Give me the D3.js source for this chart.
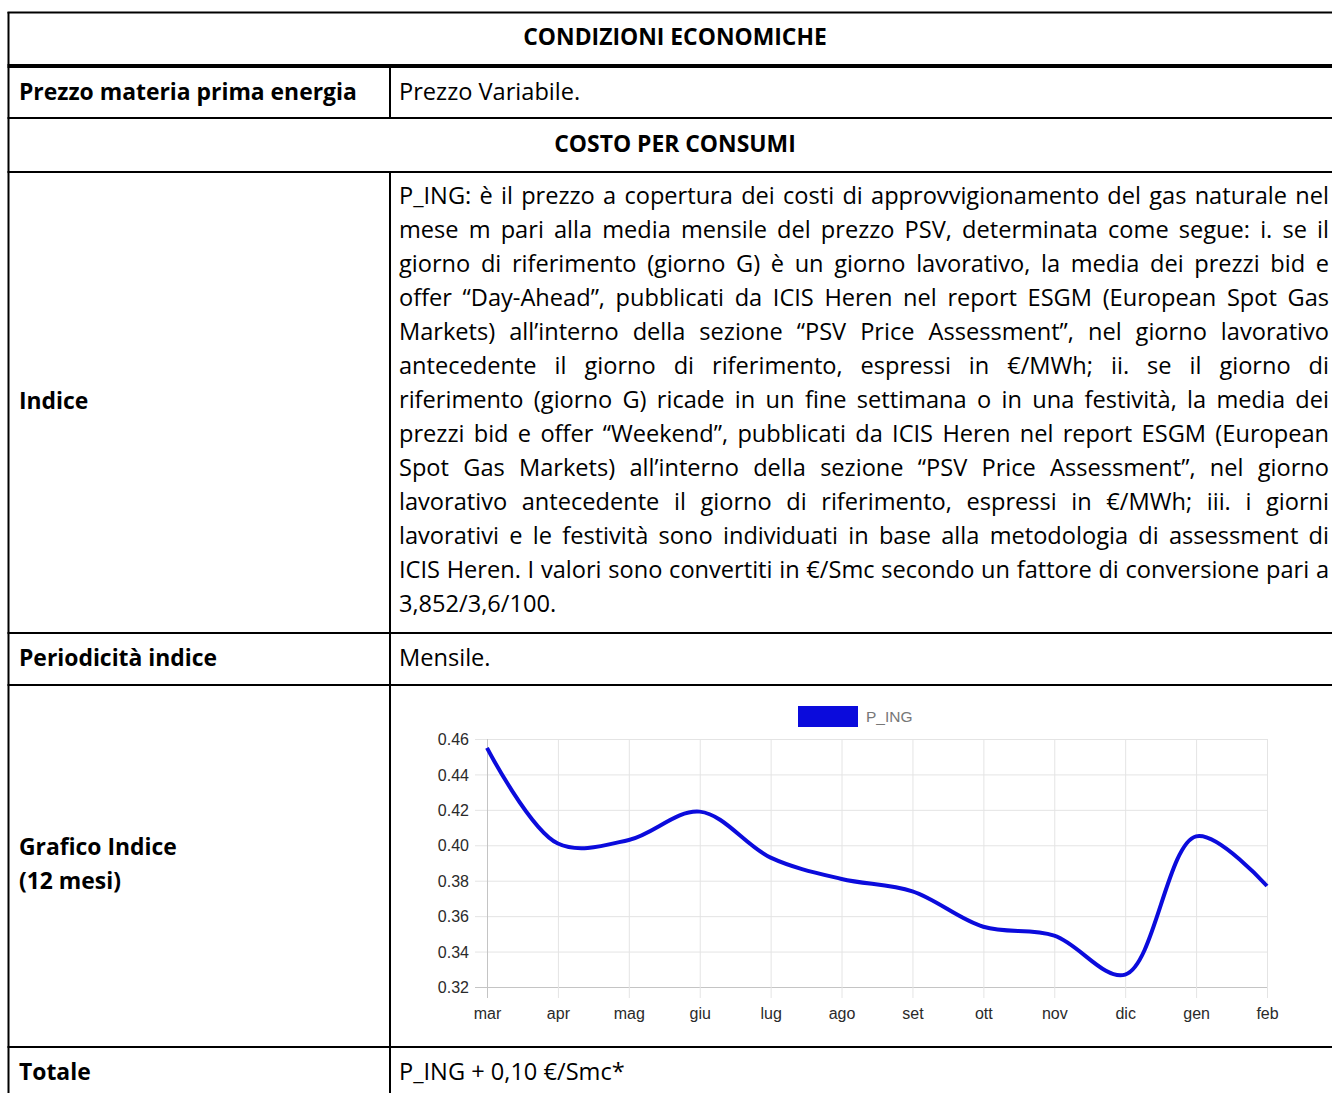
<!DOCTYPE html>
<html>
<head>
<meta charset="utf-8">
<script src="https://cdn.jsdelivr.net/npm/d3@7"></script>
<style>
  body { margin: 0; background: #fff; }
</style>
</head>
<body>
<div id="viz"></div>
<script>
// chart data
var months = ["mar", "apr", "mag", "giu", "lug", "ago", "set", "ott", "nov", "dic", "gen", "feb"];
var pIng = [0.455, 0.401, 0.403, 0.419, 0.393, 0.381, 0.374, 0.354, 0.349, 0.327, 0.405, 0.377];
var yTicks = [0.32, 0.34, 0.36, 0.38, 0.40, 0.42, 0.44, 0.46];
var seriesName = "P_ING";

// table text
var headerTitle = "CONDIZIONI ECONOMICHE";
var sectionTitle = "COSTO PER CONSUMI";
var indiceLines = [
  "P_ING: è il prezzo a copertura dei costi di approvvigionamento del gas naturale nel",
  "mese m pari alla media mensile del prezzo PSV, determinata come segue: i. se il",
  "giorno di riferimento (giorno G) è un giorno lavorativo, la media dei prezzi bid e",
  "offer “Day-Ahead”, pubblicati da ICIS Heren nel report ESGM (European Spot Gas",
  "Markets) all’interno della sezione “PSV Price Assessment”, nel giorno lavorativo",
  "antecedente il giorno di riferimento, espressi in €/MWh; ii. se il giorno di",
  "riferimento (giorno G) ricade in un fine settimana o in una festività, la media dei",
  "prezzi bid e offer “Weekend”, pubblicati da ICIS Heren nel report ESGM (European",
  "Spot Gas Markets) all’interno della sezione “PSV Price Assessment”, nel giorno",
  "lavorativo antecedente il giorno di riferimento, espressi in €/MWh; iii. i giorni",
  "lavorativi e le festività sono individuati in base alla metodologia di assessment di",
  "ICIS Heren. I valori sono convertiti in €/Smc secondo un fattore di conversione pari a",
  "3,852/3,6/100."
];

// layout
var W = 1332, H = 1093;
var tableLeft = 8.5, tableRight = 1345, colX = 390;
var hLines = [
  {y: 12.5, w: 2}, {y: 66, w: 4}, {y: 118, w: 2}, {y: 172, w: 2},
  {y: 633, w: 2}, {y: 685, w: 2}, {y: 1047, w: 2}
];
var textLeft = 19, cellLeft = 399, cellRight = 1329;
var fontFam = "'Open Sans', 'Noto Sans', sans-serif";
var chartFont = "Arial, 'Liberation Sans', sans-serif";

var svg = d3.select("#viz")
  .append("svg")
  .attr("width", W)
  .attr("height", H)
  .style("display", "block");

// pick font sizes so text widths follow the original
function fitSize(str, target, weight) {
  var t = svg.append("text")
    .attr("font-family", fontFam)
    .attr("font-size", 24)
    .attr("font-weight", weight)
    .text(str);
  var w = t.node().getComputedTextLength();
  t.remove();
  return 24 * target / w;
}
var fs = Math.max(18, Math.min(28, fitSize(indiceLines[11], 922, "normal")));
var fsb = Math.max(18, Math.min(28, fitSize("Prezzo materia prima energia", 338, "bold")));

// table borders
var grid = svg.append("g");
grid.selectAll("line.h")
  .data(hLines)
  .enter()
  .append("line")
  .attr("x1", tableLeft - 1)
  .attr("x2", tableRight)
  .attr("y1", function(d) { return d.y; })
  .attr("y2", function(d) { return d.y; })
  .attr("stroke", "#000")
  .attr("stroke-width", function(d) { return d.w; });

grid.append("line")
  .attr("x1", tableLeft).attr("x2", tableLeft)
  .attr("y1", 12).attr("y2", H)
  .attr("stroke", "#000").attr("stroke-width", 2);

[[66, 118], [172, H]].forEach(function(s) {
  grid.append("line")
    .attr("x1", colX).attr("x2", colX)
    .attr("y1", s[0]).attr("y2", s[1])
    .attr("stroke", "#000").attr("stroke-width", 2);
});

// labels
var labels = [
  {t: headerTitle, x: 675, y: 45, b: true, mid: true},
  {t: "Prezzo materia prima energia", x: textLeft, y: 100, b: true},
  {t: "Prezzo Variabile.", x: cellLeft, y: 100},
  {t: sectionTitle, x: 675, y: 152, b: true, mid: true},
  {t: "Indice", x: textLeft, y: 409, b: true},
  {t: "Periodicità indice", x: textLeft, y: 666, b: true},
  {t: "Mensile.", x: cellLeft, y: 666},
  {t: "Grafico Indice", x: textLeft, y: 855, b: true},
  {t: "(12 mesi)", x: textLeft, y: 889, b: true},
  {t: "Totale", x: textLeft, y: 1080, b: true},
  {t: "P_ING + 0,10 €/Smc*", x: cellLeft, y: 1080}
];

svg.append("g").selectAll("text")
  .data(labels)
  .enter()
  .append("text")
  .attr("x", function(d) { return d.x; })
  .attr("y", function(d) { return d.y; })
  .attr("font-family", fontFam)
  .attr("font-size", function(d) { return d.b ? fsb : fs; })
  .attr("font-weight", function(d) { return d.b ? "bold" : "normal"; })
  .attr("text-anchor", function(d) { return d.mid ? "middle" : "start"; })
  .attr("fill", "#000")
  .text(function(d) { return d.t; });

// justified paragraph
var para = svg.append("g")
  .attr("font-family", fontFam)
  .attr("font-size", fs)
  .attr("fill", "#000");

indiceLines.forEach(function(line, li) {
  var words = line.split(" ");
  var y = 204 + li * 34;
  var nodes = words.map(function(w) {
    return para.append("text").attr("y", y).text(w);
  });
  var widths = nodes.map(function(n) { return n.node().getComputedTextLength(); });
  var total = d3.sum(widths);
  var last = li === indiceLines.length - 1;
  var gap = (last || words.length < 2) ? fs * 0.26 : (cellRight - cellLeft - total) / (words.length - 1);
  var x = cellLeft;
  nodes.forEach(function(n, i) {
    n.attr("x", x);
    x += widths[i] + gap;
  });
});

// chart
var x = d3.scalePoint()
  .domain(months)
  .range([487, 1267]);

var y = d3.scaleLinear()
  .domain([0.32, 0.46])
  .range([987, 739]);

var chart = svg.append("g");

// horizontal grid + y labels
var yAxis = chart.append("g")
  .attr("transform", "translate(475,0)")
  .call(d3.axisRight(y)
    .tickValues(yTicks)
    .tickSize(1267 - 475)
    .tickFormat(d3.format(".2f")));
yAxis.select(".domain").remove();
yAxis.selectAll(".tick line")
  .attr("stroke", function(d) { return d === 0.32 ? "#c4c4c4" : "#e4e4e4"; });
yAxis.selectAll(".tick text")
  .attr("x", -6)
  .attr("dy", "0.35em")
  .attr("text-anchor", "end")
  .attr("font-family", chartFont)
  .attr("font-size", 16)
  .attr("fill", "#2a2a2a");

// vertical grid + x labels
var xAxis = chart.append("g")
  .attr("transform", "translate(0,998)")
  .call(d3.axisTop(x).tickSize(998 - 739).tickSizeOuter(0));
xAxis.select(".domain").remove();
xAxis.selectAll(".tick line")
  .attr("stroke", function(d, i) { return i === 0 ? "#c4c4c4" : "#e4e4e4"; });
xAxis.selectAll(".tick text")
  .attr("y", 21)
  .attr("dy", 0)
  .attr("font-family", chartFont)
  .attr("font-size", 16)
  .attr("fill", "#2a2a2a");

// series line
var line = d3.line()
  .x(function(d, i) { return x(months[i]); })
  .y(function(d) { return y(d); })
  .curve(d3.curveCatmullRom.alpha(0.5));

chart.append("path")
  .datum(pIng)
  .attr("d", line)
  .attr("fill", "none")
  .attr("stroke", "#0b0bdc")
  .attr("stroke-width", 4)
  .attr("stroke-linejoin", "round");

// legend
var legend = chart.append("g");
legend.append("rect")
  .attr("x", 798).attr("y", 706)
  .attr("width", 60).attr("height", 21)
  .attr("fill", "#0b0bdc");
legend.append("text")
  .attr("x", 866).attr("y", 722)
  .attr("font-family", chartFont)
  .attr("font-size", 15.5)
  .attr("fill", "#777")
  .text(seriesName);
</script>
</body>
</html>
